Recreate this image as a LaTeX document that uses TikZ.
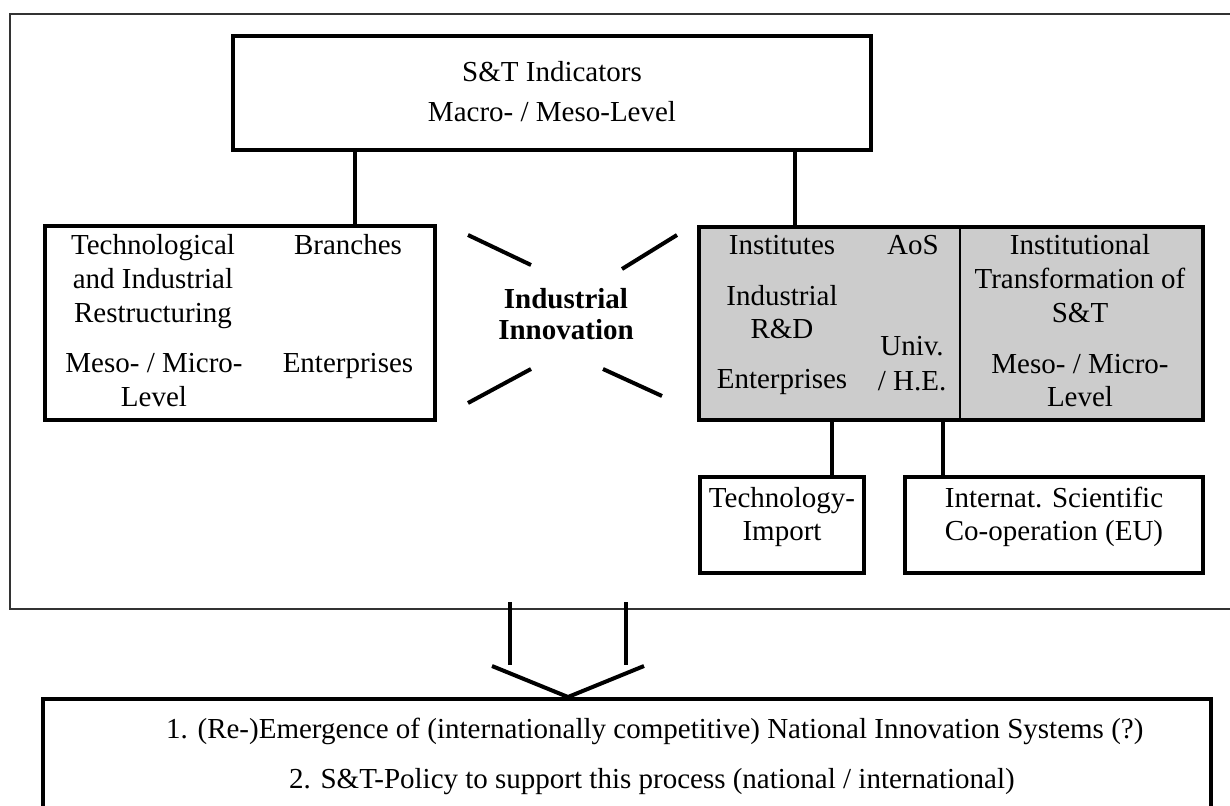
\documentclass[tikz,border=0pt]{standalone}
\usepackage{fontspec}
\setmainfont{Liberation Serif}
\newcommand\fs{\fontsize{29}{34}\selectfont}
\begin{document}
\begin{tikzpicture}[x=1pt,y=-1pt,
  box/.style={draw, line width=4pt, inner sep=0pt},
  lbl/.style={anchor=base, inner sep=0pt, font=\fs},
  bl/.style={anchor=base, inner sep=0pt, font=\fs\bfseries},
  wire/.style={line width=4pt},
  frame/.style={line width=1.6pt, draw=black!80},
  ]
\useasboundingbox (0,0) rectangle (1230,805);
\clip (0,0) rectangle (1230,805);
\draw[frame] (10,14) rectangle (1250,609);

% boxes
\node[box, minimum width=638pt, minimum height=114pt] (top) at (552,93) {};
\node[box, minimum width=390pt, minimum height=194pt] (left) at (240,323) {};
\node[box, fill=gray!40, minimum width=504pt, minimum height=193pt] (inst) at (951,323.5) {};
\node[box, minimum width=164pt, minimum height=96pt] (tech) at (782,525) {};
\node[box, minimum width=298pt, minimum height=96pt] (intl) at (1054,525) {};
\node[box, minimum width=1168pt, minimum height=161pt] (res) at (627,779.5) {};

% divider in shaded box
\coordinate (div) at (960,323);
\draw[line width=2pt] (div |- inst.north) -- (div |- inst.south);

% connectors
\coordinate (c1) at (355,0);
\coordinate (c2) at (795,0);
\coordinate (c3) at (832,0);
\coordinate (c4) at (943,0);
\draw[wire] (c1 |- top.south) -- (c1 |- left.north);
\draw[wire] (c2 |- top.south) -- (c2 |- inst.north);
\draw[wire] (c3 |- inst.south) -- (c3 |- tech.north);
\draw[wire] (c4 |- inst.south) -- (c4 |- intl.north);

% top texts
\node[lbl] (t1) at (552,82) {S\&T Indicators};
\node[lbl] (t2) at (552,122) {Macro- / Meso-Level};

% left box texts
\node[lbl] (l1) at (153,254) {Technological};
\node[lbl] (l2) at (153,288) {and Industrial};
\node[lbl] (l3) at (153,322) {Restructuring};
\node[lbl] (l4) at (154,372) {Meso- / Micro-};
\node[lbl] (l5) at (154,406) {Level};
\node[lbl] (l6) at (348,254) {Branches};
\node[lbl] (l7) at (348,372) {Enterprises};

% centre
\node[bl] (i1) at (566,308) {Industrial};
\node[bl] (i2) at (566,339) {Innovation};
\draw[wire] (468,235) -- (531,265);
\draw[wire] (622,269) -- (677,235);
\draw[wire] (468,403) -- (531,369);
\draw[wire] (603,369) -- (662,396);

% shaded box texts
\node[lbl] (s1) at (782,254) {Institutes};
\node[lbl] (s2) at (913,254) {AoS};
\node[lbl] (s3) at (782,305) {Industrial};
\node[lbl] (s4) at (782,338) {R\&D};
\node[lbl] (s5) at (782,388) {Enterprises};
\node[lbl] (s6) at (912,355) {Univ.};
\node[lbl] (s7) at (912,390) {/ H.E.};
\node[lbl] (r1) at (1080,254) {Institutional};
\node[lbl] (r2) at (1080,288) {Transformation of};
\node[lbl] (r3) at (1080,322) {S\&T};
\node[lbl] (r4) at (1080,373) {Meso- / Micro-};
\node[lbl] (r5) at (1080,406) {Level};

% small boxes
\node[lbl] (k1) at (782,507) {Technology-};
\node[lbl] (k2) at (782,540) {Import};
\node[lbl] (n1) at (1054,507) {Internat. Scientific};
\node[lbl] (n2) at (1054,540) {Co-operation (EU)};

% arrow to result
\draw[wire] (510,602) -- (510,665);
\draw[wire] (626,602) -- (626,665);
\coordinate (tip) at (568,697);
\draw[wire, line join=miter] (492,666) -- (tip |- res.north) -- (644,666);

% result texts
\node[lbl, anchor=base west] (b1) at (166,738) {1. (Re-)Emergence of (internationally competitive) National Innovation Systems (?)};
\node[lbl, anchor=base west] (b2) at (289,788) {2. S\&T-Policy to support this process (national / international)};
\end{tikzpicture}
\end{document}
